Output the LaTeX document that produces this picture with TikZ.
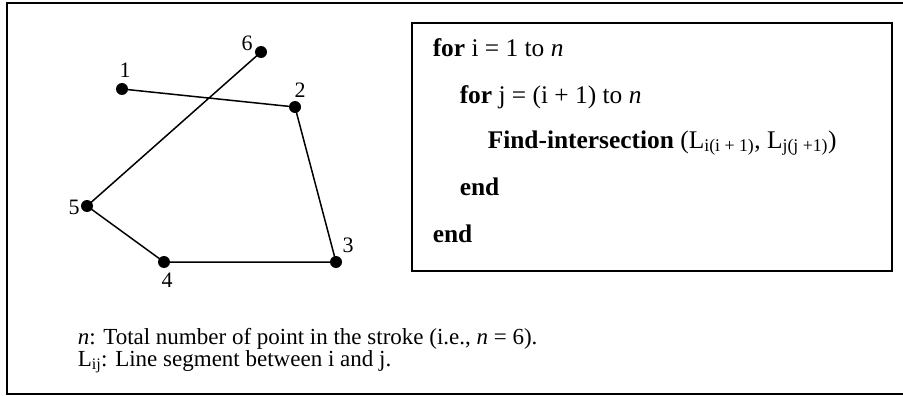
\documentclass[tikz,border=0pt]{standalone}
\usepackage{fontspec}
\setmainfont{Liberation Serif}
\begin{document}
\begin{tikzpicture}[x=1pt,y=-1pt,
  every path/.style={line width=1.5pt},
  dot/.style={circle,fill,inner sep=0pt,minimum size=12pt},
  num/.style={font=\fontsize{22}{24}\selectfont,inner sep=0pt},
  code/.style={anchor=base west,inner sep=0pt,font=\fontsize{25.4}{30}\selectfont},
  note/.style={anchor=base west,inner sep=0pt,align=left,
    font=\fontsize{23}{20}\selectfont}]
  \useasboundingbox (0,0) rectangle (903,396);
  % outer frame, its right side runs off the page
  \draw[line width=1.6pt] (905,3) -- (7,3) -- (7,394) -- (905,394);

  % stroke points
  \node[dot] (p1) at (122,89) {};
  \node[dot] (p2) at (295,107) {};
  \node[dot] (p3) at (336,262) {};
  \node[dot] (p4) at (164,262) {};
  \node[dot] (p5) at (87,206) {};
  \node[dot] (p6) at (261,52) {};
  \draw (p1.center) -- (p2.center) -- (p3.center) -- (p4.center)
    -- (p5.center) -- (p6.center);
  \node[num] (n1) at (125,70) {1};
  \node[num] (n2) at (300,90) {2};
  \node[num] (n3) at (348,245) {3};
  \node[num] (n4) at (167,280) {4};
  \node[num] (n5) at (74,207) {5};
  \node[num] (n6) at (247,43) {6};

  % pseudo-code box
  \draw[line width=1.6pt] (412,23) rectangle (892,271);
  \node[code] (c1) at (432,57) {\textbf{for} i = 1 to \textit{n}};
  \node[code] (c2) at (459,103) {\textbf{for} j = (i + 1) to \textit{n}};
  \node[code] (c3) at (487,148)
    {\textbf{Find-intersection} (L\textsubscript{i(i + 1)}, L\textsubscript{j(j +1)})};
  \node[code] (c4) at (459,195) {\textbf{end}};
  \node[code] (c5) at (432,242) {\textbf{end}};

  % notes (base anchor sits on the last line)
  \node[note] (notes) at (77,366)
    {\textit{n}: Total number of point in the stroke (i.e., \textit{n} = 6).\\
     L\textsubscript{ij}: Line segment between i and j.};
\end{tikzpicture}
\end{document}
